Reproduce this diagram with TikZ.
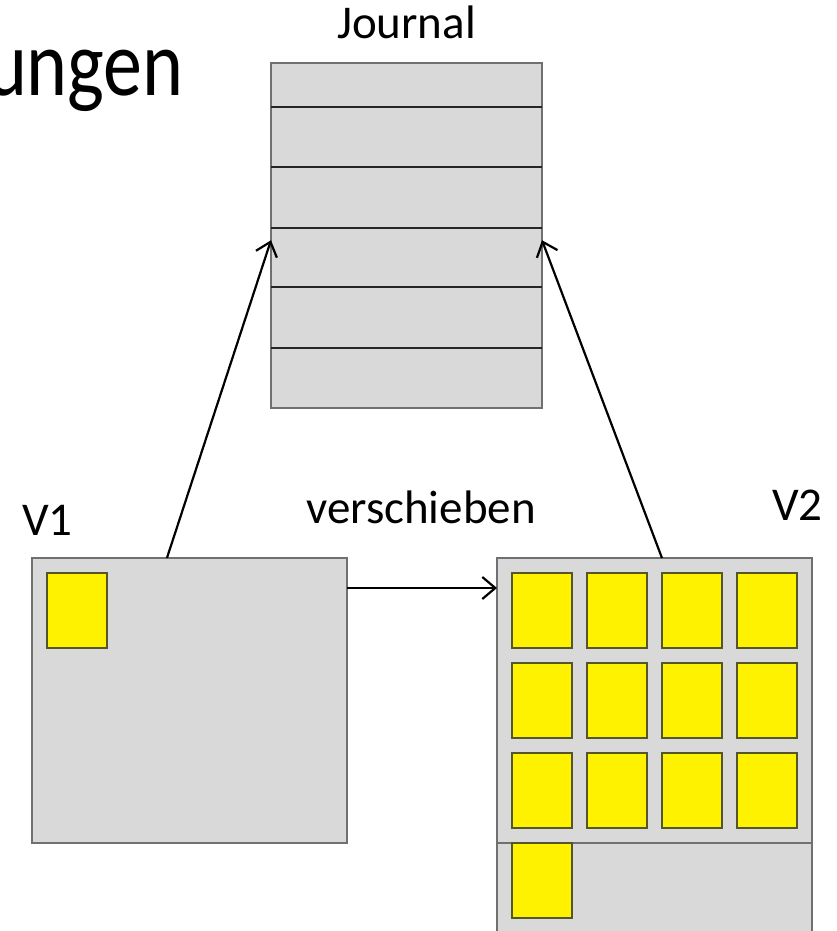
\documentclass[tikz,border=0pt]{standalone}
\usepackage{fontspec}
\setmainfont{Carlito}
\usetikzlibrary{arrows.meta,positioning}

\definecolor{boxgray}{HTML}{D9D9D9}
\definecolor{edgegray}{HTML}{707070}
\definecolor{celledge}{HTML}{55552A}

\tikzset{
  memory/.style={draw=edgegray,fill=boxgray,line width=1.3pt,inner sep=0pt,outer sep=0pt},
  cell/.style={draw=celledge,fill=yellow,line width=1.2pt},
  rowline/.style={draw=black!85,line width=1.3pt},
  tag/.style={inner sep=0pt,font=\fontsize{47}{56}\selectfont}
}

\begin{document}
\begin{tikzpicture}[x=1pt,y=-1pt]

% Fix the picture size
\clip (0,0) rectangle (837,931);
\fill[white] (0,0) rectangle (837,931);

% Title, cut off at the left
\node[inner sep=0pt,anchor=base east] (title) at (184,96)
  {\fontsize{78}{94}\selectfont\scalebox{1}[1.2]{Verschiebungen}};

% Draw the journal and its entries
\node[memory,minimum width=271,minimum height=345] (journal) at (406.5,235.5) {};
\foreach \y in {107,167,228,287,348}
  \draw[rowline] (journal.west |- 0,\y) -- (journal.east |- 0,\y);
\node[tag,anchor=base] (journallabel) at (406.5,39) {Journal};

% Draw both volumes
\node[memory,minimum width=315,minimum height=285] (v1) at (189.5,700.5) {};
\node[memory,minimum width=315,minimum height=285] (v2) at (654.5,700.5) {};
\node[memory,minimum width=315,minimum height=110,anchor=north] (v2rest) at (v2.south) {};
\node[tag,anchor=base west] (v1label) at (22,535) {V1};
\node[tag,anchor=base west] (v2label) at (772,520) {V2};

% Place the blocks
\draw[cell] (47,573) rectangle ++(60,75);
\foreach \col in {0,...,3}
  \foreach \row in {0,1,2}
    \draw[cell] (512+75*\col,573+90*\row) rectangle ++(60,75);
\draw[cell] (512,843) rectangle ++(60,75);

% Draw the arrows
\begin{scope}[-{Straight Barb[length=13pt,width=22pt]},line width=2.2pt]
% Journal entries
\draw (v1.99) -- (journal.182);
\draw (v2.87) -- (journal.358);
% Move
\draw ([yshift=-30pt]v1.north east) -- ([yshift=-30pt]v2.north west);
\end{scope}
\node[tag,anchor=base west] (movelabel) at (306,523) {verschieben};

\end{tikzpicture}
\end{document}
